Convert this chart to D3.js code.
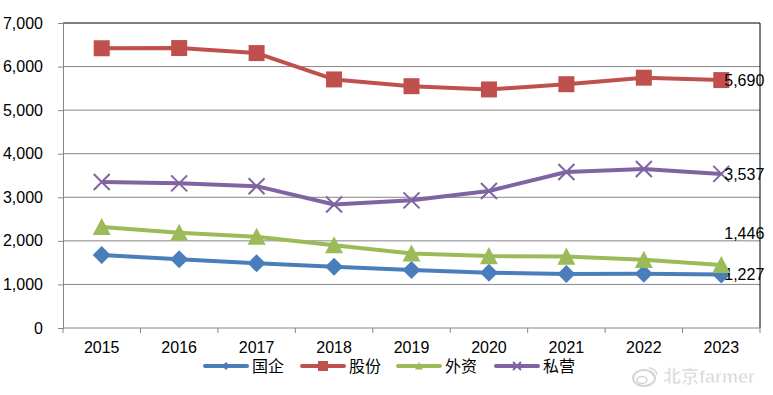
<!DOCTYPE html>
<meta charset="utf-8">
<style>
body { margin: 0; background: #fff; }
text { font-family: "Liberation Sans", Arial, "Noto Sans CJK SC", sans-serif; }
</style>
<svg id="chart" width="773" height="395"></svg>
<script src="https://cdnjs.cloudflare.com/ajax/libs/d3/7.8.5/d3.min.js"></script>
<script>
var years = ["2015","2016","2017","2018","2019","2020","2021","2022","2023"];
var names = ["国企","股份","外资","私营"];
var guoqi  = [1674, 1578, 1486, 1407, 1331, 1269, 1240, 1245, 1227];
var gufen  = [6420, 6425, 6310, 5705, 5550, 5475, 5595, 5745, 5690];
var waizi  = [2320, 2186, 2094, 1900, 1712, 1650, 1640, 1565, 1446];
var siying = [3350, 3320, 3255, 2835, 2930, 3145, 3580, 3650, 3537];
var yTicks = [0, 1000, 2000, 3000, 4000, 5000, 6000, 7000];

var colors = ["#4a7ebb", "#c0504d", "#9bbb59", "#8064a2"];
var shapes = ["diamond", "square", "triangle", "cross"];
var labelShift = [0, 0, -32, 0];

var series = [guoqi, gufen, waizi, siying].map(function(v, i){
  return {name: names[i], values: v, color: colors[i], shape: shapes[i], shift: labelShift[i]};
});

var svg = d3.select("#chart"),
    pLeft = 63, pRight = 760, pTop = 23, pBottom = 328;

var x = d3.scaleBand().domain(years).range([pLeft, pRight]);
var y = d3.scaleLinear().domain([0, 7000]).range([pBottom, pTop]);
var cx = function(yr){ return x(yr) + x.bandwidth() / 2; };
var fmt = d3.format(",");

// grid
svg.append("g").selectAll("line").data(yTicks.slice(1)).enter().append("line")
  .attr("x1", pLeft).attr("x2", pRight)
  .attr("y1", function(d){ return y(d); }).attr("y2", function(d){ return y(d); })
  .attr("stroke", function(d){ return d === 7000 ? "#000" : "#868686"; })
  .attr("stroke-width", 1);
svg.append("line").attr("x1", pRight).attr("x2", pRight).attr("y1", pTop).attr("y2", pBottom)
  .attr("stroke", "#000");

// y axis
var ya = svg.append("g").attr("transform", "translate(" + pLeft + ",0)")
  .call(d3.axisLeft(y).tickValues(yTicks).tickSize(5).tickPadding(15).tickFormat(fmt));
ya.select(".domain").attr("stroke", "#868686");
ya.selectAll(".tick line").attr("stroke", "#868686");
ya.selectAll("text").attr("font-size", 16).attr("fill", "#000")
  .attr("font-family", "Liberation Sans, Arial, sans-serif");

// x axis
var xa = svg.append("g").attr("transform", "translate(0," + pBottom + ")")
  .call(d3.axisBottom(x).tickSize(0).tickPadding(14));
xa.select(".domain").attr("stroke", "#868686").attr("d", "M" + pLeft + ",0H" + pRight);
xa.selectAll("text").attr("font-size", 16).attr("fill", "#000")
  .attr("font-family", "Liberation Sans, Arial, sans-serif");
xa.selectAll(".bound").data(years.concat(["end"])).enter().append("line")
  .attr("class", "bound")
  .attr("x1", function(d, i){ return pLeft + i * x.bandwidth(); })
  .attr("x2", function(d, i){ return pLeft + i * x.bandwidth(); })
  .attr("y1", 0).attr("y2", 5).attr("stroke", "#868686");

function marker(sel, shape, color, s) {
  if (shape === "diamond") {
    sel.append("path").attr("d", "M0," + (-s) + "L" + s + ",0L0," + s + "L" + (-s) + ",0Z").attr("fill", color);
  } else if (shape === "square") {
    sel.append("rect").attr("x", -s).attr("y", -s).attr("width", 2 * s).attr("height", 2 * s).attr("fill", color);
  } else if (shape === "triangle") {
    sel.append("path").attr("d", "M0," + (-s) + "L" + s + "," + (s * 0.9) + "L" + (-s) + "," + (s * 0.9) + "Z").attr("fill", color);
  } else {
    sel.append("path").attr("d", "M" + (-s) + "," + (-s) + "L" + s + "," + s + "M" + (-s) + "," + s + "L" + s + "," + (-s))
      .attr("stroke", color).attr("stroke-width", 2).attr("fill", "none");
  }
}

var markerSize = {diamond: 9, square: 8, triangle: 9, cross: 8};
var line = d3.line().x(function(d, i){ return cx(years[i]); }).y(function(d){ return y(d); });

series.forEach(function(s){
  var g = svg.append("g");
  g.append("path").datum(s.values).attr("d", line)
    .attr("fill", "none").attr("stroke", s.color).attr("stroke-width", 4)
    .attr("stroke-linejoin", "round");
  s.values.forEach(function(v, i){
    var m = g.append("g").attr("transform", "translate(" + cx(years[i]) + "," + y(v) + ")");
    marker(m, s.shape, s.color, markerSize[s.shape]);
  });
  var last = s.values[s.values.length - 1];
  g.append("text")
    .attr("x", cx(years[years.length - 1]) + 3)
    .attr("y", y(last) + s.shift)
    .attr("dy", "0.36em")
    .attr("font-size", 16)
    .text(fmt(last));
});

// legend
var legendX = [205, 302, 398, 496];
var lg = svg.append("g").attr("transform", "translate(0,366)");
series.forEach(function(s, i){
  var g = lg.append("g").attr("transform", "translate(" + legendX[i] + ",0)");
  g.append("line").attr("x1", 0).attr("x2", 42).attr("stroke", s.color).attr("stroke-width", 4)
    .attr("stroke-linecap", "round");
  var m = g.append("g").attr("transform", "translate(21,0)");
  marker(m, s.shape, s.color, s.shape === "square" ? 5 : 4);
  g.append("text").attr("x", 47).attr("dy", "0.36em").attr("font-size", 16)
    .attr("font-family", "Noto Sans CJK SC, sans-serif").text(s.name);
});

// watermark
var wm = svg.append("g").attr("transform", "translate(632,377)").attr("opacity", 0.6);
wm.append("ellipse").attr("cx", 12).attr("cy", 1).attr("rx", 11).attr("ry", 8)
  .attr("fill", "none").attr("stroke", "#b8b8b8").attr("stroke-width", 2);
wm.append("ellipse").attr("cx", 10).attr("cy", 3).attr("rx", 5).attr("ry", 3.5)
  .attr("fill", "none").attr("stroke", "#b8b8b8").attr("stroke-width", 1.5);
wm.append("path").attr("d", "M17,-9A8,8 0 0 1 25,-2M17,-5A4,4 0 0 1 21,-1")
  .attr("fill", "none").attr("stroke", "#b8b8b8").attr("stroke-width", 1.5);
wm.append("text").attr("x", 31).attr("dy", "0.36em").attr("font-size", 18)
  .attr("font-family", "Noto Sans CJK SC, sans-serif").attr("font-weight", "bold")
  .attr("fill", "#bdbdbd").attr("stroke", "#fff").attr("stroke-width", 0.6)
  .text("北京farmer");
</script>
